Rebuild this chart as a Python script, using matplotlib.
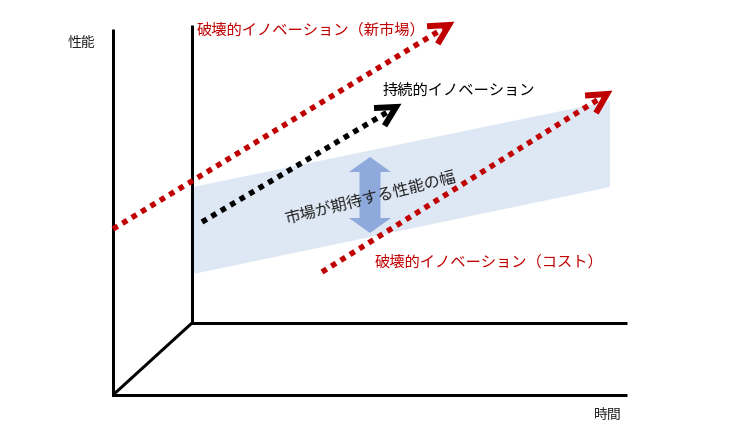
import numpy as np
import matplotlib
matplotlib.use("Agg")
import matplotlib.pyplot as plt
from matplotlib.patches import Polygon, FancyArrow

plt.rcParams['font.family'] = ['Noto Sans CJK JP', 'DejaVu Sans']

# ---- diagram geometry (pixel space of a 750x438 picture) ----
front_axis_x = [113, 113, 627]
front_axis_y = [29, 395, 395]
back_axis_x = [192, 192, 627]
back_axis_y = [25, 323, 323]
depth_x = [113, 192]
depth_y = [395, 323]

band_x = [193, 610, 610, 193]
band_y = [187, 101, 187, 274]

new_market_x = [113, 449]
new_market_y = [229, 25]
sustaining_x = [202, 396]
sustaining_y = [222, 107]
low_cost_x = [322, 607]
low_cost_y = [272, 94]

width_arrow_x = 370
width_arrow_y = [157, 233]

RED = '#C00000'
BAND = '#DEE8F4'
ARROW_BLUE = '#8EA9DB'
PX = 0.72   # points per pixel at dpi 100


def dotted_arrow(ax, xs, ys, color):
    ax.plot(xs, ys, color=color, lw=5.5 * PX, linestyle=(0, (1, 1)),
            solid_capstyle='butt', dash_capstyle='butt', zorder=4)
    # open arrow head at the end
    dx = xs[1] - xs[0]
    dy = ys[1] - ys[0]
    back = np.arctan2(-dy, -dx)
    L = 22
    a1 = back + np.radians(28)
    a2 = back - np.radians(28)
    hx = [xs[1] + L * np.cos(a1), xs[1], xs[1] + L * np.cos(a2)]
    hy = [ys[1] + L * np.sin(a1), ys[1], ys[1] + L * np.sin(a2)]
    ax.plot(hx, hy, color=color, lw=6 * PX, solid_joinstyle='miter',
            solid_capstyle='butt', zorder=5)


fig = plt.figure(figsize=(7.5, 4.38), dpi=100)
ax = fig.add_axes([0, 0, 1, 1])
ax.set_xlim(0, 750)
ax.set_ylim(438, 0)
ax.axis('off')

# band of expected performance
ax.add_patch(Polygon(np.column_stack([band_x, band_y]), closed=True,
                     facecolor=BAND, edgecolor='none', zorder=1))

# axes of the diagram
for xs, ys in [(front_axis_x, front_axis_y), (back_axis_x, back_axis_y),
               (depth_x, depth_y)]:
    ax.plot(xs, ys, color='black', lw=3 * PX, solid_joinstyle='miter',
            solid_capstyle='butt', zorder=3)

# double headed arrow
mid = (width_arrow_y[0] + width_arrow_y[1]) / 2
for tip in width_arrow_y:
    ax.add_patch(FancyArrow(width_arrow_x, mid, 0, tip - mid, width=21,
                            head_width=42, head_length=15,
                            length_includes_head=True, color=ARROW_BLUE,
                            lw=0, zorder=2))

dotted_arrow(ax, new_market_x, new_market_y, RED)
dotted_arrow(ax, sustaining_x, sustaining_y, 'black')
dotted_arrow(ax, low_cost_x, low_cost_y, RED)

# labels
ax.text(82, 43, '性能', fontsize=10, color='#222222', ha='center', va='center')
ax.text(608, 415, '時間', fontsize=10, color='#222222', ha='center', va='center')
ax.text(197, 30, '破壊的イノベーション（新市場）', fontsize=11, color=RED,
        ha='left', va='center', zorder=6)
ax.text(383, 90, '持続的イノベーション', fontsize=11, color='black',
        ha='left', va='center', zorder=6)
ax.text(375, 262, '破壊的イノベーション（コスト）', fontsize=11, color=RED,
        ha='left', va='center', zorder=6)
ax.text(370, 198, '市場が期待する性能の幅', fontsize=11.5, color='#222222',
        ha='center', va='center', rotation=14, rotation_mode='anchor', zorder=6)

fig.savefig('out.png', dpi=100)
